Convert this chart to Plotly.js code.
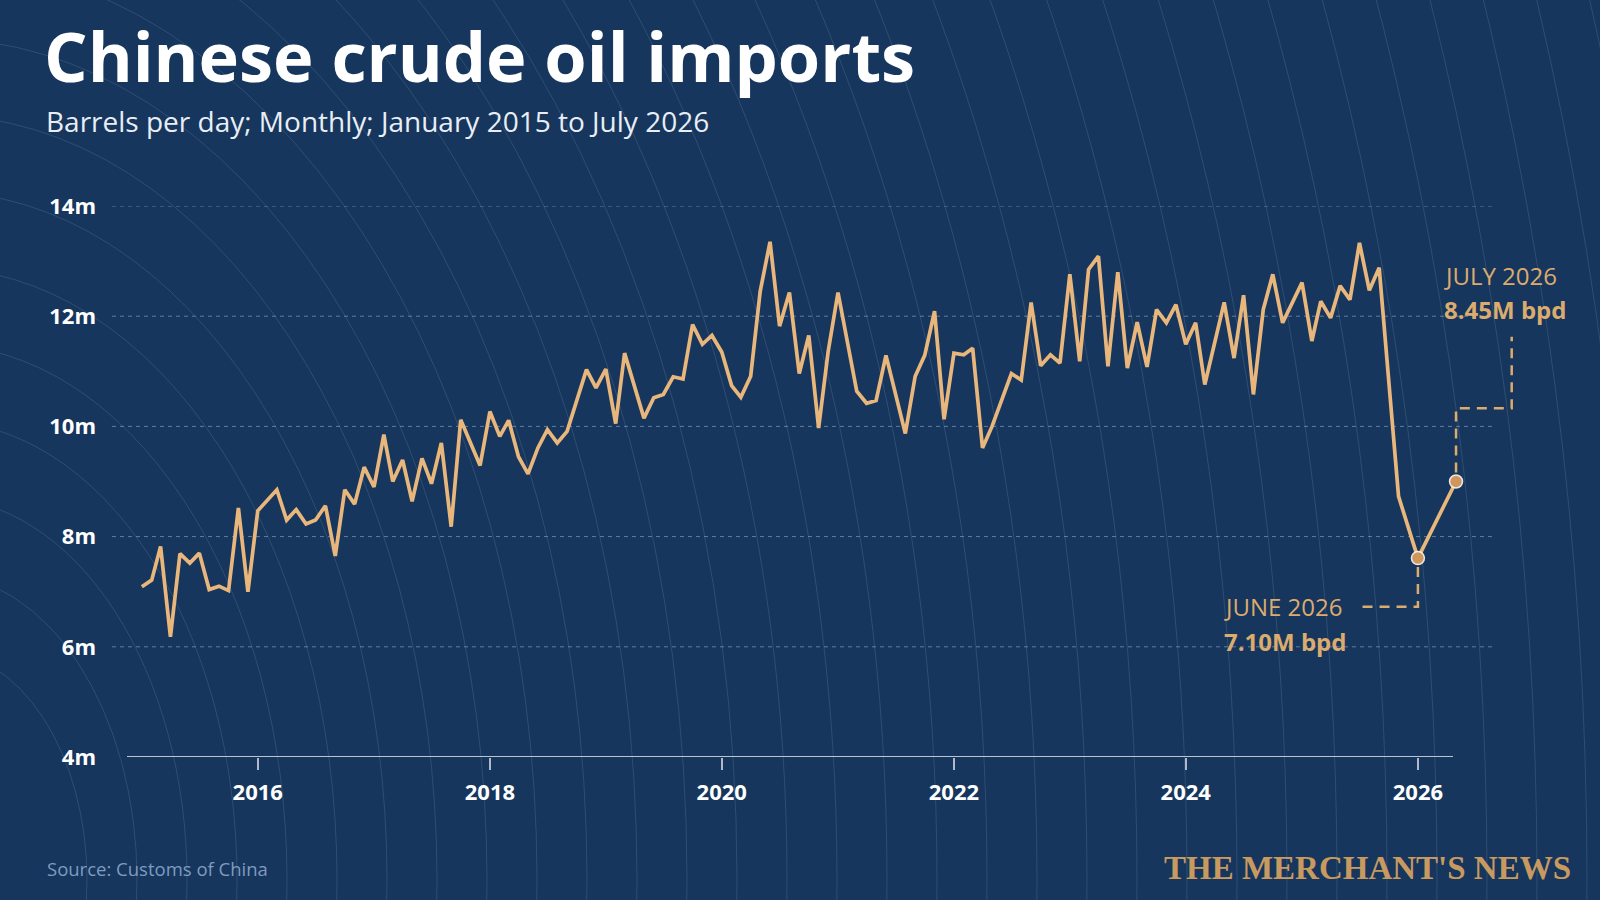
<!DOCTYPE html>
<html><head><meta charset="utf-8">
<script src="https://cdn.plot.ly/plotly-3.0.1.min.js"></script>
<style>html,body{margin:0;padding:0;background:#16365d;} #chart{width:1600px;height:900px;}</style>
</head><body><div id="chart"></div>
<script>
// ---- data ----
const months = [
 '2015-01','2015-02','2015-03','2015-04','2015-05','2015-06','2015-07','2015-08','2015-09','2015-10','2015-11','2015-12',
 '2016-01','2016-03','2016-04','2016-05','2016-06','2016-07','2016-08','2016-09','2016-10','2016-11','2016-12',
 '2017-01','2017-02','2017-03','2017-04','2017-05','2017-06','2017-07','2017-08','2017-09','2017-10','2017-12',
 '2018-01','2018-02','2018-03','2018-04','2018-05','2018-06','2018-07','2018-08','2018-09','2018-11','2018-12',
 '2019-01','2019-02','2019-03','2019-05','2019-06','2019-07','2019-08','2019-09','2019-10','2019-11','2019-12',
 '2020-01','2020-02','2020-03','2020-04','2020-05','2020-06','2020-07','2020-08','2020-09','2020-10','2020-11','2020-12',
 '2021-01','2021-03','2021-04','2021-05','2021-06','2021-07','2021-08','2021-09','2021-10','2021-11','2021-12',
 '2022-01','2022-02','2022-03','2022-04','2022-05','2022-07','2022-08','2022-09','2022-10','2022-11','2022-12',
 '2023-01','2023-02','2023-03','2023-04','2023-05','2023-06','2023-07','2023-08','2023-09','2023-10','2023-11','2023-12',
 '2024-01','2024-02','2024-03','2024-05','2024-06','2024-07','2024-08','2024-09','2024-10','2024-11',
 '2025-01','2025-02','2025-03','2025-04','2025-05','2025-06','2025-07','2025-08','2025-09','2025-11',
 '2026-01','2026-05'
];
const importsMbpd = [
 7.09,7.21,7.82,6.18,7.69,7.52,7.70,7.04,7.10,7.02,8.52,7.00,
 8.47,8.85,8.30,8.49,8.23,8.30,8.56,7.65,8.85,8.59,9.26,
 8.90,9.85,9.00,9.39,8.64,9.42,8.96,9.70,8.18,10.12,9.29,
 10.27,9.82,10.11,9.45,9.14,9.61,9.94,9.70,9.91,11.03,10.70,
 11.04,10.05,11.33,10.15,10.52,10.58,10.90,10.86,11.85,11.49,11.65,
 11.35,10.74,10.53,10.91,12.45,13.35,11.82,12.43,10.96,11.65,9.97,11.36,
 12.43,10.64,10.42,10.47,11.29,10.61,9.87,10.91,11.29,12.09,10.13,
 11.33,11.30,11.42,9.61,10.00,10.96,10.84,12.25,11.10,11.30,11.15,
 12.76,11.18,12.85,13.09,11.09,12.80,11.06,11.89,11.08,12.12,11.88,12.21,
 11.49,11.88,10.76,12.25,11.24,12.38,10.58,12.12,12.76,11.88,
 12.61,11.55,12.27,11.97,12.55,12.30,13.33,12.47,12.88,8.73,
 7.61,9.00
];
const yTickVals = [4, 6, 8, 10, 12, 14];
const yTickText = ['4m', '6m', '8m', '10m', '12m', '14m'];
const xTickVals = ['2016-01-01', '2018-01-01', '2020-01-01', '2022-01-01', '2024-01-01', '2026-01-01'];
const xTickText = ['2016', '2018', '2020', '2022', '2024', '2026'];
const calloutMonths = ['2026-01', '2026-05'];
const calloutLabels = ['JUNE 2026', 'JULY 2026'];
const calloutValues = ['7.10M bpd', '8.45M bpd'];
const titleText = 'Chinese crude oil imports';
const subtitleText = 'Barrels per day; Monthly; January 2015 to July 2026';
const sourceText = 'Source: Customs of China';
const brandText = "THE MERCHANT'S NEWS";

// ---- layout geometry ----
const W = 1600, H = 900, L = 112, R = 103, T = 206, B = 143;
const pw = W - L - R, ph = H - T - B;
const xRange = ['2014-09-29', '2026-09-07'];
const px = x => (x - L) / pw;
const py = y => (H - B - y) / ph;
const t0 = Date.parse(xRange[0]), t1 = Date.parse(xRange[1]);
const xPix = d => L + (Date.parse(d + (d.length === 7 ? '-01' : '')) - t0) / (t1 - t0) * pw;
const yPix = v => H - B - (v - 4) / 10 * ph;

const calloutIdx = calloutMonths.map(m => months.indexOf(m));
const cx = calloutIdx.map(i => months[i]);
const cy = calloutIdx.map(i => importsMbpd[i]);

const tan = '#dcab6e';
const shapes = [];

// background concentric arcs (decoration)
const ecx = -63, ecy = 880, k = 1.53;
for (let a = 150; a <= 1800; a += 50) {
  const b = a * k;
  shapes.push({type: 'circle', xref: 'paper', yref: 'paper', layer: 'below',
    x0: px(ecx - a), x1: px(ecx + a), y0: py(ecy + b), y1: py(ecy - b),
    line: {color: 'rgba(205,220,240,0.14)', width: 1}});
}
// dashed gridlines
yTickVals.slice(1).forEach(v => shapes.push({type: 'line', xref: 'paper', yref: 'y', layer: 'below',
  x0: px(112), x1: px(1494), y0: v, y1: v,
  line: {color: 'rgba(160,185,215,0.55)', width: 1, dash: '4px,4px'}}));
// baseline axis line
shapes.push({type: 'line', xref: 'paper', yref: 'y', x0: px(127), x1: px(1453), y0: yTickVals[0], y1: yTickVals[0],
  line: {color: '#bac5d4', width: 2.2}});
// callout connectors
const m0x = xPix(cx[0]), m0y = yPix(cy[0]);
const m1x = xPix(cx[1]), m1y = yPix(cy[1]);
const P = (x, y) => px(x) + ',' + py(y);
shapes.push({type: 'path', xref: 'paper', yref: 'paper',
  path: 'M' + P(m0x, m0y + 9) + ' L' + P(m0x, 606.7) + ' L' + P(1358, 606.7),
  line: {color: tan, width: 2.5, dash: '10px,7px'}});
shapes.push({type: 'path', xref: 'paper', yref: 'paper',
  path: 'M' + P(m1x, m1y - 9) + ' L' + P(m1x, 408.3) + ' L' + P(1511.7, 408.3) + ' L' + P(1511.7, 336.7),
  line: {color: tan, width: 2.5, dash: '10px,7px'}});

const annFont = {family: 'Open Sans', size: 24, color: tan};
const annotations = [
  {text: subtitleText, xref: 'paper', yref: 'paper', x: px(44), y: py(121), xanchor: 'left', yanchor: 'middle',
   showarrow: false, font: {family: 'Open Sans', size: 28, color: '#e9eef5'}},
  {text: sourceText, xref: 'paper', yref: 'paper', x: px(45), y: py(868), xanchor: 'left', yanchor: 'middle',
   showarrow: false, font: {family: 'Open Sans', size: 18.5, color: '#7f9bc0'}},
  {text: brandText, xref: 'paper', yref: 'paper', x: px(1573), y: py(868), xanchor: 'right', yanchor: 'middle',
   showarrow: false, font: {family: 'Liberation Serif', size: 33, weight: 700, color: '#c99a60'}},
  {text: calloutLabels[0], xref: 'paper', yref: 'paper', x: px(1222), y: py(606.7), xanchor: 'left', yanchor: 'middle',
   showarrow: false, font: annFont},
  {text: calloutValues[0], xref: 'paper', yref: 'paper', x: px(1222), y: py(641.7), xanchor: 'left', yanchor: 'middle',
   showarrow: false, font: Object.assign({}, annFont, {weight: 700})},
  {text: calloutLabels[1], xref: 'paper', yref: 'paper', x: px(1442), y: py(275), xanchor: 'left', yanchor: 'middle',
   showarrow: false, font: annFont},
  {text: calloutValues[1], xref: 'paper', yref: 'paper', x: px(1442), y: py(309), xanchor: 'left', yanchor: 'middle',
   showarrow: false, font: Object.assign({}, annFont, {weight: 700})}
];

const traces = [
  {type: 'scatter', mode: 'lines', x: months, y: importsMbpd, hoverinfo: 'skip',
   line: {color: '#e9b77c', width: 3.7, shape: 'linear'}},
  {type: 'scatter', mode: 'markers', x: cx, y: cy, hoverinfo: 'skip',
   marker: {size: 13, color: '#cf975c', line: {color: 'rgba(255,255,255,0.85)', width: 1.5}}}
];

const layout = {
  width: W, height: H, showlegend: false,
  paper_bgcolor: '#16365d', plot_bgcolor: 'rgba(0,0,0,0)',
  margin: {l: L, r: R, t: T, b: B, pad: 0},
  title: {text: titleText, xref: 'container', yref: 'container', x: 44 / W, xanchor: 'left',
          y: 1 - 58 / H, yanchor: 'middle',
          font: {family: 'Open Sans', size: 68.5, weight: 700, color: '#ffffff'}},
  xaxis: {type: 'date', range: xRange, showgrid: false, zeroline: false, showline: false,
          tickvals: xTickVals, ticktext: xTickText, ticks: 'outside', ticklen: 12, tickwidth: 1.5,
          ticklabelstandoff: 4,
          tickcolor: '#aebacb', tickfont: {family: 'Open Sans', size: 22, weight: 700, color: '#ffffff'},
          fixedrange: true},
  yaxis: {range: [4, 14], showgrid: false, zeroline: false, showline: false,
          tickvals: yTickVals, ticktext: yTickText, ticks: '', ticklabelstandoff: 15,
          tickfont: {family: 'Open Sans', size: 22, weight: 700, color: '#ffffff'}, fixedrange: true},
  shapes: shapes, annotations: annotations
};

Plotly.newPlot('chart', traces, layout, {displayModeBar: false, staticPlot: true});
</script>
</body></html>
